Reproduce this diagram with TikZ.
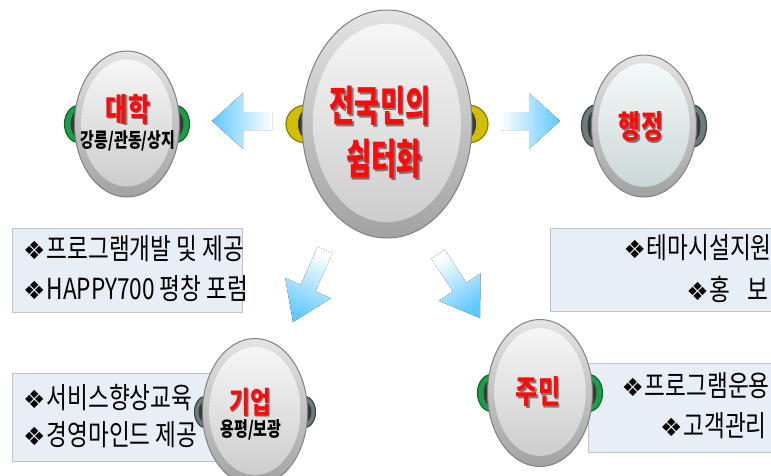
\documentclass[tikz,border=0pt]{standalone}
\usepackage{fontspec}
\usetikzlibrary{shapes.geometric,calc}
\newfontfamily\krbig{Noto Sans CJK KR}[FakeStretch=0.65]
\newfontfamily\krlab{Noto Sans CJK KR}[FakeStretch=0.75]
\newfontfamily\krbox{Noto Sans CJK KR}[FakeStretch=0.78]
\newfontfamily\symfont{DejaVu Sans}
\definecolor{arrowblue}{RGB}{95,200,255}
\definecolor{boxfill}{HTML}{E8EEF5}
\definecolor{boxline}{HTML}{BFC4CA}
\definecolor{rimtop}{HTML}{E4E4E4}
\definecolor{rimbot}{HTML}{A2A2A2}
\definecolor{rimline}{HTML}{808080}
\definecolor{facetop}{HTML}{F6F6F6}
\definecolor{facebot}{HTML}{CDCDCD}
\definecolor{hjtop}{HTML}{F4F9F9}
\definecolor{hjbot}{HTML}{CCD7D7}
\definecolor{bandcol}{HTML}{3A3A3A}
\definecolor{earyel}{HTML}{D2BE00}
\definecolor{earyeldk}{HTML}{8E7E00}
\definecolor{eargrn}{HTML}{1C9E48}
\definecolor{eargrndk}{HTML}{0C6A2C}
\definecolor{earslt}{HTML}{6C7C7C}
\definecolor{earsltdk}{HTML}{3C4848}
\definecolor{lblred}{HTML}{FF0A0A}
\tikzset{
  rim/.style={ellipse, inner sep=0pt, draw=rimline, line width=1pt, top color=rimtop, bottom color=rimbot},
  face/.style={ellipse, inner sep=0pt, top color=facetop, bottom color=facebot},
  hjface/.style={top color=hjtop, bottom color=hjbot},
  ear/.style={ellipse, inner sep=0pt},
  infobox/.style={fill=boxfill, draw=boxline, line width=1pt},
  boxtxt/.style={inner sep=0pt, font=\krbox\fontsize{29}{29}\selectfont, text=black},
  lbltext/.style={inner sep=0pt, text=lblred},
  lblshadow/.style={inner sep=0pt, text=black, opacity=0.45},
  subtxt/.style={inner sep=0pt, text=black, font=\krlab\bfseries\fontsize{20}{20}\selectfont}
}
\newcommand\dia{{\fontsize{25}{25}\symfont ❖}\hspace{1pt}}
% name, x, y, w, h, ear extension, earh, earcolor, extra face style
\newcommand\btn[9]{%
  \node[ear, minimum width=2*#6+8, minimum height=#7, fill=#8, draw=#8dk, line width=1.2pt] (#1earL) at (#2-#4/2+4,#3) {};
  \node[ear, minimum width=2*#6+8, minimum height=#7, fill=#8, draw=#8dk, line width=1.2pt] (#1earR) at (#2+#4/2-4,#3) {};
  \node[ear, minimum width=16, minimum height=#7-10, fill=bandcol] (#1bandL) at (#2-#4/2+4,#3) {};
  \node[ear, minimum width=16, minimum height=#7-10, fill=bandcol] (#1bandR) at (#2+#4/2-4,#3) {};
  \node[rim, minimum width=#4, minimum height=#5] (#1) at (#2,#3) {};
  \node[face, #9, minimum width=#4*0.87, minimum height=#5*0.87] (#1face) at (#2,#3-1) {};
}
% name, x, y, font, text
\newcommand\lbl[5]{%
  \node[lblshadow, font=#4] (#1s) at (#2+1.6,#3+1.6) {#5};
  \node[lbltext, font=#4] (#1) at (#2,#3) {#5};
}
% tail, tip, shading angle, shaft half, head half, head length
\newcommand\barrow[6]{%
  \coordinate (#1B) at ($(#2)!#6pt!(#1)$);
  \fill[top color=white, bottom color=arrowblue, shading angle=#3]
    ($(#1)!#4pt!90:(#2)$) -- ($(#1B)!#4pt!90:(#2)$) -- ($(#1B)!#5pt!90:(#2)$) -- (#2)
    -- ($(#1B)!#5pt!-90:(#2)$) -- ($(#1B)!#4pt!-90:(#2)$) -- ($(#1)!#4pt!-90:(#2)$) -- cycle;
}
\begin{document}
\begin{tikzpicture}[x=1pt, y=-1pt]
\useasboundingbox (0,0) rectangle (771,475);
\clip (0,0) rectangle (771,475);
\fill[white] (0,0) rectangle (771,475);

% info boxes
\draw[infobox] (12,228) rectangle (242,312);
\draw[infobox] (550,228) rectangle (790,311);
\draw[infobox] (12,373) rectangle (240,461);
\draw[infobox] (588,363) rectangle (790,452);

\node[boxtxt, anchor=west] (tl1) at (23,249) {\dia 프로그램개발 및 제공};
\node[boxtxt, anchor=west] (tl2) at (23,289) {\dia HAPPY700 평창 포럼};
\node[boxtxt, anchor=east] (tr1) at (772,248) {\dia 테마시설지원};
\node[boxtxt, anchor=east] (tr2) at (769,289) {\dia 홍\hspace{0.6em}보};
\node[boxtxt, anchor=west] (bl1) at (23,398) {\dia 서비스향상교육};
\node[boxtxt, anchor=west] (bl2) at (23,435) {\dia 경영마인드 제공};
\node[boxtxt, anchor=east] (br1) at (770,386) {\dia 프로그램운용};
\node[boxtxt, anchor=east] (br2) at (767,426) {\dia 고객관리};

% arrows
\coordinate (aLt) at (272,121); \coordinate (aLp) at (212,121);
\coordinate (aRt) at (500,121); \coordinate (aRp) at (560,121);
\coordinate (aDLt) at (325,250); \coordinate (aDLp) at (293,322);
\coordinate (aDRt) at (438,254); \coordinate (aDRp) at (480,318);
\barrow{aLt}{aLp}{270}{9}{28}{31}
\barrow{aRt}{aRp}{90}{9}{28}{31}
\barrow{aDLt}{aDLp}{336.5}{8}{25}{37}
\barrow{aDRt}{aDRp}{33.3}{8}{25}{37}

% buttons
\btn{ctr}{387}{124}{170}{228}{16}{38}{earyel}{}
\btn{dh}{127}{124}{105}{146}{10}{37}{eargrn}{}
\btn{hj}{644}{126}{105}{142}{10}{42}{earslt}{hjface}
\btn{gy}{255}{412}{105}{147}{8}{32}{earslt}{}
\btn{jm}{540}{393}{105}{147}{10}{37}{eargrn}{}

% labels
\lbl{ctrA}{380}{106}{\krbig\bfseries\fontsize{42}{42}\selectfont}{전국민의}
\lbl{ctrB}{384}{159}{\krbig\bfseries\fontsize{42}{42}\selectfont}{쉼터화}
\lbl{dhL}{128}{109}{\krlab\bfseries\fontsize{32}{32}\selectfont}{대학}
\node[subtxt] (dhS) at (128,141) {강릉/관동/상지};
\lbl{hjL}{641}{127}{\krlab\bfseries\fontsize{32}{32}\selectfont}{행정}
\lbl{gyL}{250}{402}{\krlab\bfseries\fontsize{30}{30}\selectfont}{기업}
\node[subtxt] (gyS) at (251,430) {용평/보광};
\lbl{jmL}{538}{392}{\krlab\bfseries\fontsize{32}{32}\selectfont}{주민}
\end{tikzpicture}
\end{document}
